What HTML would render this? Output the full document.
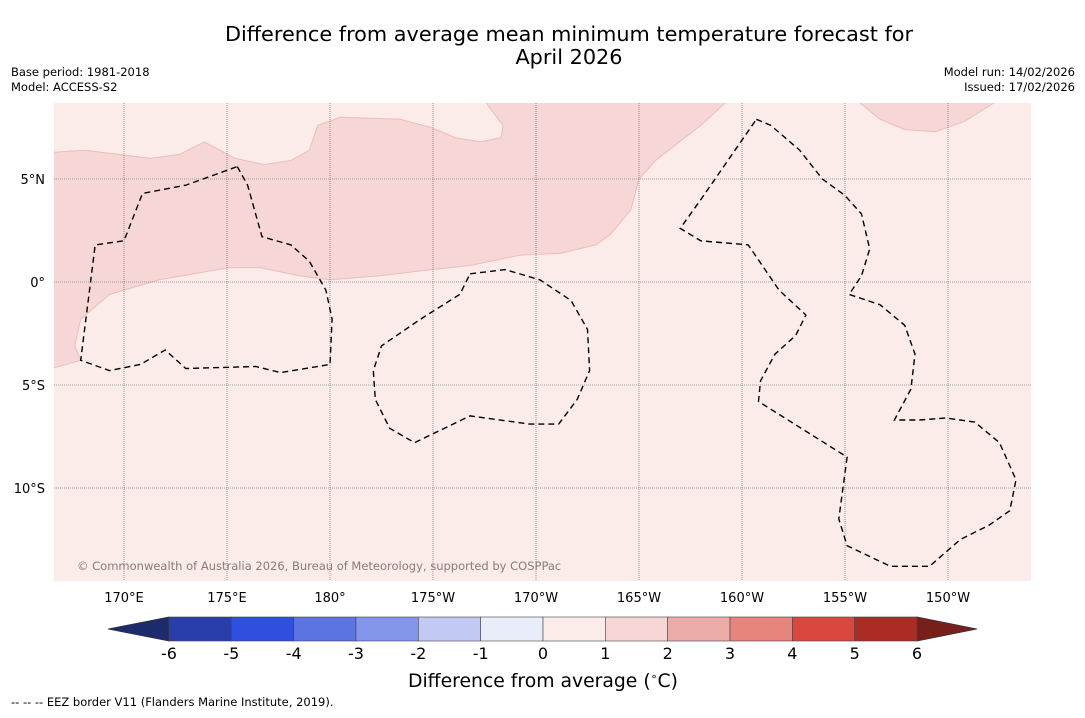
<!DOCTYPE html>
<html><head><meta charset="utf-8"><style>
body{margin:0;background:#fff;}
svg text{font-family:"DejaVu Sans","Liberation Sans",sans-serif;}
</style></head><body>
<svg id="chart" width="1085" height="713" viewBox="0 0 1085 713" xmlns="http://www.w3.org/2000/svg">
<defs><clipPath id="mapclip"><rect x="54" y="103" width="977" height="478"/></clipPath></defs>
<text x="569" y="41" font-size="20.8" text-anchor="middle">Difference from average mean minimum temperature forecast for</text>
<text x="569" y="64" font-size="20.8" text-anchor="middle">April 2026</text>
<text x="11" y="76" font-size="11.5">Base period: 1981-2018</text>
<text x="11" y="91" font-size="11.5">Model: ACCESS-S2</text>
<text x="1075" y="76" font-size="11.5" text-anchor="end">Model run: 14/02/2026</text>
<text x="1075" y="91" font-size="11.5" text-anchor="end">Issued: 17/02/2026</text>
<rect x="54" y="103" width="977" height="478" fill="#fbebe9"/>
<g id="contours" clip-path="url(#mapclip)"></g>
<g id="grid" clip-path="url(#mapclip)"></g>
<g id="eez" clip-path="url(#mapclip)"></g>
<g id="axes"></g>
<text x="77" y="570" font-size="11.5" fill="#8a7a78">© Commonwealth of Australia 2026, Bureau of Meteorology, supported by COSPPac</text>
<g id="colorbar"></g>
<text x="543" y="687" font-size="18.8" text-anchor="middle">Difference from average (<tspan font-size="11" dy="-7">∘</tspan><tspan dy="7">C)</tspan></text>
<text x="11" y="706" font-size="11.5">--  --  -- EEZ border V11 (Flanders Marine Institute, 2019).</text>
</svg>
<script>
// Axis data
const lonTicks = [170,175,180,185,190,195,200,205,210];
const lonLabels = ["170°E","175°E","180°","175°W","170°W","165°W","160°W","155°W","150°W"];
const latTicks = [5,0,-5,-10];
const latLabels = ["5°N","0°","5°S","10°S"];
// Colorbar data
const cbLevels = [-6,-5,-4,-3,-2,-1,0,1,2,3,4,5,6];
const cbColors = ["#2a3eab","#2f4fdf","#5b74e2","#8396ea","#c2c9f3","#e9ecf9","#fbebe9","#f6d7d5","#ebaca8","#e6847e","#da473f","#ab2c25"];
const cbUnder = "#1c2a6e", cbOver = "#77201b";
// Contour regions (lon deg east, lat)
const bandAbove1 = [[166.6,6.3],[168.1,6.4],[171.3,6.0],[172.7,6.2],[173.9,6.8],[175.4,6.0],[176.8,5.7],[178.1,5.9],[179.0,6.4],[179.4,7.6],[180.5,8.0],[183.4,7.9],[184.9,7.5],[186.1,7.0],[187.3,6.8],[188.3,7.0],[188.4,7.6],[187.5,8.8],[199.3,8.8],[198.0,7.6],[195.8,5.9],[195.0,5.0],[194.6,3.5],[193.6,2.3],[192.9,1.8],[191.2,1.4],[189.2,1.3],[186.8,0.8],[184.9,0.6],[182.4,0.3],[180.0,0.1],[178.5,0.3],[176.6,0.7],[175.1,0.7],[171.7,0.1],[169.3,-0.6],[167.9,-1.8],[167.6,-3.1],[167.9,-3.8],[166.5,-4.2]];
const blobAbove1 = [[205.6,8.8],[206.7,7.9],[207.9,7.4],[209.4,7.3],[210.8,7.8],[212.4,8.8]];
// EEZ borders
const eezTuvalu = [[175.5,5.6],[176.0,4.7],[176.7,2.2],[178.1,1.8],[179.0,1.0],[179.8,-0.4],[180.1,-1.8],[180.0,-4.0],[177.6,-4.4],[176.4,-4.1],[173.0,-4.2],[172.0,-3.3],[170.8,-4.0],[169.3,-4.3],[167.9,-3.8],[168.6,1.8],[170.0,2.0],[170.9,4.3],[173.0,4.7]];
const eezPhoenix = [[186.8,0.4],[188.5,0.6],[190.2,0.1],[191.7,-0.9],[192.5,-2.3],[192.6,-4.3],[192.0,-5.7],[191.1,-6.9],[189.7,-6.9],[186.8,-6.5],[184.1,-7.8],[182.9,-7.1],[182.2,-5.7],[182.1,-4.3],[182.5,-3.1],[184.4,-1.8],[186.3,-0.6]];
const eezLine = [[200.7,7.9],[201.4,7.6],[202.8,6.4],[203.9,5.0],[205.0,4.2],[205.8,3.3],[206.2,1.6],[205.8,0.3],[205.2,-0.6],[206.7,-1.1],[207.9,-2.1],[208.4,-3.5],[208.2,-5.2],[207.4,-6.7],[208.6,-6.7],[209.9,-6.6],[211.3,-6.8],[212.5,-7.8],[213.3,-9.6],[213.0,-11.1],[212.0,-11.8],[210.6,-12.5],[209.1,-13.8],[207.2,-13.8],[205.1,-12.8],[204.7,-11.5],[205.1,-8.5],[200.8,-5.8],[200.9,-4.8],[201.6,-3.5],[202.6,-2.6],[203.1,-1.6],[201.8,-0.4],[200.3,1.8],[198.0,2.0],[197.0,2.6],[198.0,4.0]];

const NS="http://www.w3.org/2000/svg";
const X = lon => 124 + (lon-170)*20.6;
const Y = lat => 282 - lat*20.6;
function mk(tag, attrs, parent){const e=document.createElementNS(NS,tag);for(const k in attrs)e.setAttribute(k,attrs[k]);parent.appendChild(e);return e;}
const pts = arr => arr.map(p=>X(p[0]).toFixed(1)+","+Y(p[1]).toFixed(1)).join(" ");

const gC=document.getElementById('contours');
let p=mk('polygon',{points:pts(bandAbove1)+" 40,90 40,60",fill:"#f6d7d5",stroke:"#e8bfbb","stroke-width":1},gC);


p=mk('polygon',{points:pts(blobAbove1),fill:"#f6d7d5",stroke:"#e8bfbb","stroke-width":1},gC);



const gG=document.getElementById('grid'), gA=document.getElementById('axes');
lonTicks.forEach((lon,i)=>{
  let l=mk('line',{x1:X(lon),x2:X(lon),y1:103,y2:581,stroke:"#555","stroke-width":0.6,"stroke-dasharray":"1,1"},gG);
  
  
  let t=mk('text',{x:X(lon),y:602,"font-size":13,"text-anchor":"middle"},gA);
  t.textContent=lonLabels[i];
  
  
});
latTicks.forEach((lat,i)=>{
  let l=mk('line',{x1:54,x2:1031,y1:Y(lat),y2:Y(lat),stroke:"#555","stroke-width":0.6,"stroke-dasharray":"1,1"},gG);
  
  
  let t=mk('text',{x:45,y:Y(lat)+5,"font-size":13,"text-anchor":"end"},gA);
  t.textContent=latLabels[i];
  
  
});

const gE=document.getElementById('eez');
[[eezTuvalu,'eez-border-tuvalu'],[eezPhoenix,'eez-border-phoenix'],[eezLine,'eez-border-line-islands']].forEach(([arr,nm])=>{
  let e=mk('polygon',{points:pts(arr),fill:"none",stroke:"#000","stroke-width":1.4,"stroke-dasharray":"6,4"},gE);
  
  
});

// Colorbar
const gB=document.getElementById('colorbar');
const cbX0=169, cbX1=917, cbY=617, cbH=24;
const CX = v => cbX0 + (v-cbLevels[0])/(cbLevels[cbLevels.length-1]-cbLevels[0])*(cbX1-cbX0);
let tri=mk('polygon',{points:`108,${cbY+cbH/2} ${cbX0},${cbY} ${cbX0},${cbY+cbH}`,fill:cbUnder,stroke:"#333","stroke-width":0.8},gB);


tri=mk('polygon',{points:`977,${cbY+cbH/2} ${cbX1},${cbY} ${cbX1},${cbY+cbH}`,fill:cbOver,stroke:"#333","stroke-width":0.8},gB);


cbColors.forEach((c,i)=>{
  let r=mk('rect',{x:CX(cbLevels[i]),y:cbY,width:CX(cbLevels[i+1])-CX(cbLevels[i]),height:cbH,fill:c,stroke:"#444","stroke-width":0.6},gB);
  
  
});
cbLevels.forEach(v=>{
  let t=mk('text',{x:CX(v),y:659,"font-size":16,"text-anchor":"middle"},gB);
  t.textContent=String(v);
  
  
});
</script>
</body></html>
